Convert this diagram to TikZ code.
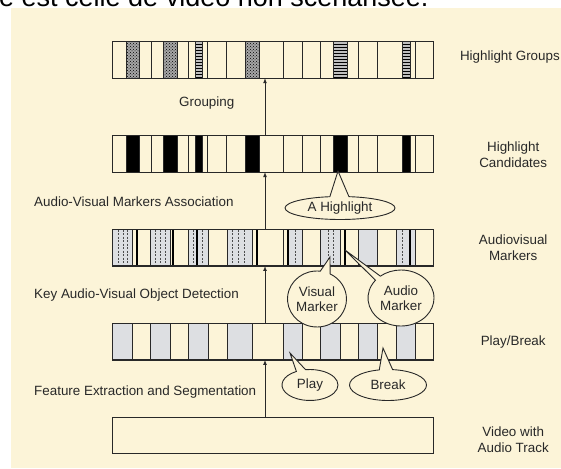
\documentclass[tikz,border=0pt]{standalone}
\usepackage{fontspec}
\setmainfont{Liberation Sans}
\usepackage{xcolor}
\usetikzlibrary{shapes, shapes.callouts, arrows, positioning, patterns}

\definecolor{paper}{RGB}{252,244,216}
\definecolor{seg}{RGB}{221,223,226}
\definecolor{ink}{RGB}{40,40,40}

\begin{document}
\begin{tikzpicture}[x=1pt, y=-1pt, font=\fontsize{13.4}{15.5}\selectfont, text=ink,
  band/.style={rectangle, minimum width=320pt, minimum height=36pt, inner sep=0pt},
  frame/.style={draw=ink, line width=1.2pt},
  divide/.style={draw=ink, line width=0.8pt},
  audiomark/.style={draw=black, line width=2pt},
  vismark/.style={draw=gray!60!black, line width=0.6pt, dash pattern=on 2pt off 1.5pt},
  bubble/.style={draw=ink, ellipse callout, fill=paper, line width=0.9pt, inner sep=0pt, align=center, callout pointer arc=20},
  lbl/.style={inner sep=0pt},
  flow/.style={-latex, draw=ink, line width=0.7pt}]

\useasboundingbox (0,0) rectangle (561,468);
\fill[white] (0,0) rectangle (561,468);
\fill[paper] (11,8) rectangle (561,468);
\node[lbl, anchor=base west, font=\fontsize{27}{30}\selectfont, text=black] (caption) at (-1,7) {e est celle de vidéo non scénarisée.};

% the five bands
\node[band] (groups) at (273,60) {};
\node[band, below=57.5pt of groups] (cands) {};
\node[band, below=57.5pt of cands] (markers) {};
\node[band, below=57.5pt of markers] (plays) {};
\node[band, below=57.5pt of plays] (video) {};

% Highlight Groups
\foreach \a/\b in {126/139, 163/177, 245/259}{
  \fill[gray!70] (\a,0 |- groups.north) rectangle (\b,0 |- groups.south);
  \fill[pattern=crosshatch dots, pattern color=black] (\a,0 |- groups.north) rectangle (\b,0 |- groups.south);
}
\foreach \a/\b in {195/202, 333/347, 402/410}{
  \fill[gray!50] (\a,0 |- groups.north) rectangle (\b,0 |- groups.south);
  \fill[pattern=horizontal lines, pattern color=black] (\a,0 |- groups.north) rectangle (\b,0 |- groups.south);
}

% Highlight Candidates
\foreach \a/\b in {126/139, 163/177, 195/202, 245/259, 333/347, 402/410}
  \fill[black] (\a,0 |- cands.north) rectangle (\b,0 |- cands.south);

\foreach \x in {126,139,151,163,177,188,195,202,207,226,245,259,283,302,320,333,347,358,377,402,410,415}{
  \draw[divide] (\x,0 |- groups.north) -- (\x,0 |- groups.south);
  \draw[divide] (\x,0 |- cands.north) -- (\x,0 |- cands.south);
}

% Audiovisual Markers
\foreach \a/\b in {113/132, 150/170, 188/208, 227/252, 288/302, 320/340, 358/377, 396/415}
  \fill[seg] (\a,0 |- markers.north) rectangle (\b,0 |- markers.south);
\foreach \x in {118,123,127,155,160,165,193,202,232,238,244,295,328,333,402}
  \draw[vismark] (\x,0 |- markers.north) -- (\x,0 |- markers.south);
\foreach \x in {132,150,170,188,208,227,252,283,302,320,340,358,377,396,415}
  \draw[divide] (\x,0 |- markers.north) -- (\x,0 |- markers.south);
\foreach \x in {137,173,197,257,288,345,410}
  \draw[audiomark] (\x,0 |- markers.north) -- (\x,0 |- markers.south);

% Play/Break
\foreach \a/\b in {113/132, 150/170, 188/208, 227/252, 283/302, 320/340, 358/377, 396/415}
  \fill[seg] (\a,0 |- plays.north) rectangle (\b,0 |- plays.south);
\foreach \x in {132,150,170,188,208,227,252,283,302,320,340,358,377,396,415}
  \draw[divide] (\x,0 |- plays.north) -- (\x,0 |- plays.south);

\foreach \n in {groups, cands, markers, plays, video}
  \draw[frame] (\n.north west) rectangle (\n.south east);

\foreach \lo/\hi in {video/plays, plays/markers, markers/cands, cands/groups}
  \draw[flow] ([xshift=-8pt]\lo.north) -- ([xshift=-8pt]\hi.south);

% step labels
\node[lbl, anchor=west] (grouping) at (179,103) {Grouping};
\node[lbl, anchor=west] (assoc) at (34,202) {Audio-Visual Markers Association};
\node[lbl, anchor=west] (detect) at (34,295) {Key Audio-Visual Object Detection};
\node[lbl, anchor=west] (extract) at (34,392) {Feature Extraction and Segmentation};

% band labels
\node[lbl, anchor=east] (groupslbl) at ([yshift=3pt]groups.east -| 560,0) {Highlight Groups};
\node[lbl, align=center] (candslbl) at ([xshift=80pt, yshift=-1pt]cands.east) {Highlight\\Candidates};
\node[lbl, align=center] (markerslbl) at ([xshift=80pt]markers.east) {Audiovisual\\Markers};
\node[lbl, align=center] (playslbl) at ([xshift=80pt]plays.east) {Play/Break};
\node[lbl, align=center] (videolbl) at ([xshift=80pt, yshift=-4pt]video.east) {Video with\\Audio Track};

% callouts
\node[bubble, minimum width=110pt, minimum height=23pt, callout absolute pointer={(338,171)}] (hl) at (340,208) {A Highlight};
\node[bubble, minimum width=58pt, minimum height=56pt, callout absolute pointer={(330,257)}] (vm) at (317,299) {Visual\\Marker};
\node[bubble, minimum width=66pt, minimum height=56pt, callout absolute pointer={(345,250)}, callout pointer arc=12] (am) at (401,298) {Audio\\Marker};
\node[bubble, minimum width=56pt, minimum height=31pt, callout absolute pointer={(290,353)}] (play) at (310,385) {Play};
\node[bubble, minimum width=77pt, minimum height=31pt, callout absolute pointer={(383,348)}] (brk) at (388,385) {Break};
\end{tikzpicture}
\end{document}
